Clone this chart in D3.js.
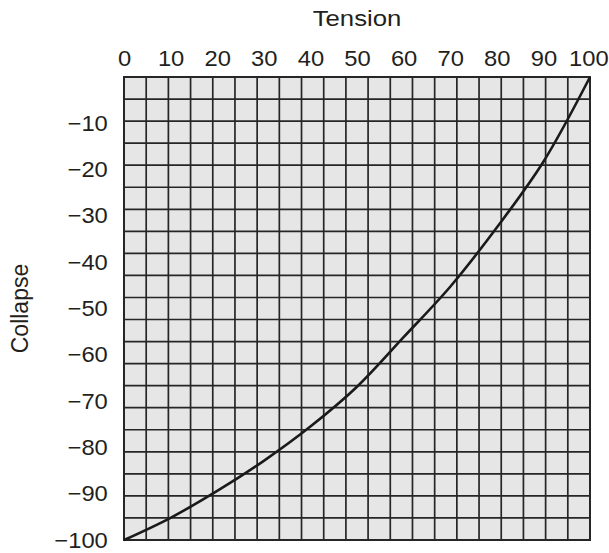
<!DOCTYPE html>
<html>
<head>
<meta charset="utf-8">
<script src="https://cdn.jsdelivr.net/npm/d3@7"></script>
<style>
  html, body { margin: 0; padding: 0; background: #fff; }
  svg { display: block; }
  text { font-family: "Liberation Sans", Arial, Helvetica, sans-serif; fill: #231f20; }
</style>
</head>
<body>
<svg id="chart" width="609" height="553"></svg>
<script>
// ---- data ----
const tensionTicks  = [0, 10, 20, 30, 40, 50, 60, 70, 80, 90, 100];
const collapseTicks = [-10, -20, -30, -40, -50, -60, -70, -80, -90, -100];
const tension  = [0, 10, 20, 30, 40, 50, 60, 70, 80, 90, 100];
const collapse = [-100, -95.2, -89.4, -82.9, -75.5, -66.9, -56.2, -45.3, -32.5, -18.3, 0];
const gridCells = 21;   // the drawn grid has 21 x 21 cells
const xTitle = "Tension";
const yTitle = "Collapse";

const svg = d3.select("#chart");
const margin = { left: 124, right: 19, top: 77, bottom: 13 };
const W = 609, H = 553;
const stretch = 1.08;   // reference type is slightly wide

const x = d3.scaleLinear().domain([0, 100]).range([margin.left, W - margin.right]);
const y = d3.scaleLinear().domain([0, -100]).range([margin.top, H - margin.bottom]);

// background
svg.append("rect")
  .attr("x", x(0)).attr("y", y(0))
  .attr("width", x(100) - x(0)).attr("height", y(-100) - y(0))
  .attr("fill", "#e6e6e6");

// grid (21 cells each way)
const gridVals = d3.range(gridCells + 1).map(i => i * 100 / gridCells);
svg.append("g").selectAll("line.v").data(gridVals).join("line")
  .attr("x1", d => x(d)).attr("x2", d => x(d))
  .attr("y1", y(0)).attr("y2", y(-100))
  .attr("stroke", "#262626").attr("stroke-width", 1.7);
svg.append("g").selectAll("line.h").data(gridVals).join("line")
  .attr("y1", d => y(-d)).attr("y2", d => y(-d))
  .attr("x1", x(0)).attr("x2", x(100))
  .attr("stroke", "#262626").attr("stroke-width", 1.7);

// border
svg.append("rect")
  .attr("x", x(0)).attr("y", y(0))
  .attr("width", x(100) - x(0)).attr("height", y(-100) - y(0))
  .attr("fill", "none").attr("stroke", "#262626").attr("stroke-width", 2);

// axes (labels only)
const fmt = d => d < 0 ? "\u2212" + Math.abs(d) : String(d);
const xAxis = d3.axisTop(x).tickValues(tensionTicks).tickSize(0).tickPadding(11).tickFormat(fmt);
const gx = svg.append("g").attr("transform", `translate(0,${y(0)})`).call(xAxis);
gx.select(".domain").remove();
gx.selectAll("text").attr("font-size", 22).attr("transform", `scale(${stretch},1)`)
  .style("font-family", "'Liberation Sans', Arial, sans-serif").attr("fill", "#231f20");
gx.selectAll(".tick").filter(d => d === 100).select("text").attr("x", -1.5);

const yAxis = d3.axisLeft(y).tickValues(collapseTicks).tickSize(0).tickPadding(15).tickFormat(fmt);
const gy = svg.append("g").attr("transform", `translate(${x(0)},0)`).call(yAxis);
gy.select(".domain").remove();
gy.selectAll("text").attr("font-size", 22).attr("transform", `scale(${stretch},1)`)
  .style("font-family", "'Liberation Sans', Arial, sans-serif").attr("fill", "#231f20");

// curve
const pts = tension.map((t, i) => [t, collapse[i]]);
const line = d3.line().x(d => x(d[0])).y(d => y(d[1])).curve(d3.curveCatmullRom.alpha(0.5));
svg.append("path").datum(pts)
  .attr("d", line)
  .attr("fill", "none").attr("stroke", "#1a1a1a").attr("stroke-width", 2.6);

// titles
svg.append("text")
  .attr("transform", `translate(${(x(0) + x(100)) / 2},26) scale(1.12,1)`)
  .attr("text-anchor", "middle").attr("font-size", 23).text(xTitle);
svg.append("text")
  .attr("transform", `translate(28,${(y(0) + y(-100)) / 2}) rotate(-90)`)
  .attr("text-anchor", "middle").attr("font-size", 23).text(yTitle);
</script>
</body>
</html>
